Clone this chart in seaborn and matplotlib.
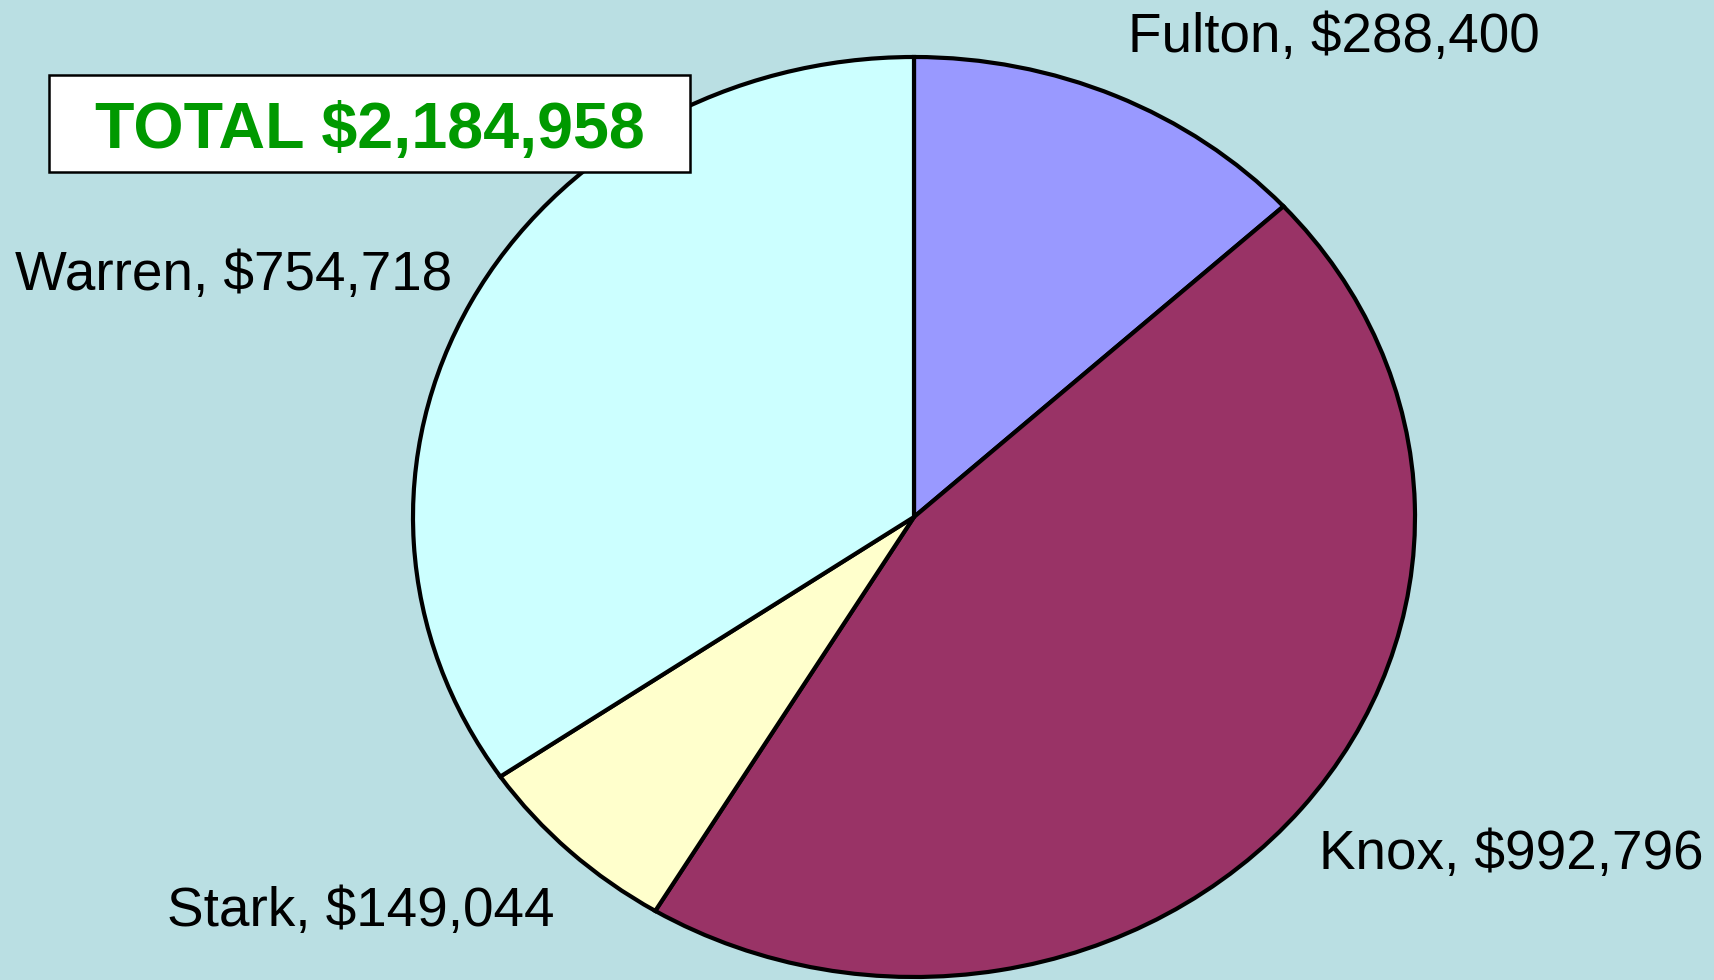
import matplotlib
matplotlib.use('Agg')
import matplotlib.pyplot as plt
import seaborn as sns
from matplotlib.patches import Rectangle

# county totals, clockwise from 12 o'clock
counties = ['Fulton', 'Knox', 'Stark', 'Warren']
amounts = [288400, 992796, 149044, 754718]
slice_colors = ['#9999FF', '#993366', '#FFFFCC', '#CCFFFF']

bg = '#BADFE3'
sns.set_style('white')
plt.rcParams['font.family'] = ['Liberation Sans', 'DejaVu Sans']

W, H = 1714, 980
fig = plt.figure(figsize=(W / 100, H / 100), dpi=100)
fig.patch.set_facecolor(bg)

# pie is slightly wider than tall in the original
cx, cy, rx, ry = 914, 517, 501, 460
ax = fig.add_axes([(cx - rx) / W, (H - cy - ry) / H, 2 * rx / W, 2 * ry / H])
ax.pie(amounts, colors=slice_colors, startangle=90, counterclock=False,
       wedgeprops=dict(edgecolor='black', linewidth=3.0))
ax.set_aspect('auto')
ax.set_xlim(-1.0, 1.0)
ax.set_ylim(-1.0, 1.0)
ax.axis('off')

# slice labels (left x, baseline y in pixels)
label_pos = {'Fulton': (1128, 52), 'Knox': (1319, 869),
             'Stark': (167, 926), 'Warren': (15, 290)}
for name, amt in zip(counties, amounts):
    x, y = label_pos[name]
    fig.text(x / W, (H - y) / H, f'{name}, ${amt:,.0f}', fontsize=39.5,
             ha='left', va='baseline', color='black')

# total box
total = sum(amounts)
fig.patches.append(Rectangle((49 / W, (H - 172) / H), (690 - 49) / W, (172 - 75) / H,
                             transform=fig.transFigure, facecolor='white',
                             edgecolor='black', linewidth=1.8, zorder=2))
fig.text(370 / W, (H - 148) / H, f'TOTAL ${total:,.0f}', fontsize=46.5,
         fontweight='bold', color='#009900', ha='center', va='baseline', zorder=3)

fig.savefig('out.png', dpi=100, facecolor=bg)
